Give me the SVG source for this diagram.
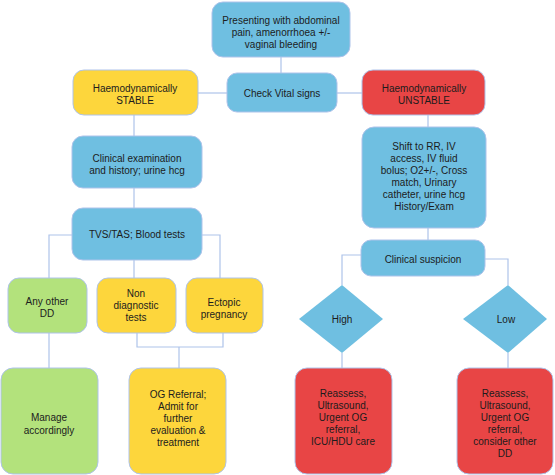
<svg xmlns="http://www.w3.org/2000/svg" width="555" height="475" viewBox="0 0 555 475">
<style>
.b{fill:#6fbfe1;stroke:#aec3ea;stroke-width:1}
.y{fill:#fdd63c;stroke:#aec3ea;stroke-width:1}
.r{fill:#e84545;stroke:#aec3ea;stroke-width:1}
.g{fill:#b3e27c;stroke:#aec3ea;stroke-width:1}
.c{fill:none;stroke:#aec3ea;stroke-width:1.2}
text{font-family:"Liberation Sans",Arial,sans-serif;font-size:10px;fill:#1c1c1c;text-anchor:middle}
</style>
<rect width="555" height="475" fill="#fff"/>
<g id="connectors">
<path class="c" d="M281 57V73"/>
<path class="c" d="M227 93H198"/>
<path class="c" d="M337 93H362"/>
<path class="c" d="M134 115V136"/>
<path class="c" d="M134 188V208"/>
<path class="c" d="M72 235H49V278"/>
<path class="c" d="M202 235H220V278"/>
<path class="c" d="M134 260V278"/>
<path class="c" d="M49 333V368"/>
<path class="c" d="M137 333V347H223V333"/>
<path class="c" d="M179 347V368"/>
<path class="c" d="M428 115V127"/>
<path class="c" d="M428 228V240"/>
<path class="c" d="M361 255H342V285"/>
<path class="c" d="M485 259H508V285"/>
<path class="c" d="M342 353V368"/>
<path class="c" d="M508 353V368"/>
</g>
<g id="n_present"><rect class="b" x="212" y="2" width="138" height="55" rx="11"/><text x="281" y="24">Presenting with abdominal</text><text x="281" y="36">pain, amenorrhoea +/-</text><text x="281" y="48">vaginal bleeding</text></g>
<g id="n_vital"><rect class="b" x="227" y="73" width="110" height="39" rx="10"/><text x="282" y="97">Check Vital signs</text></g>
<g id="n_stable"><rect class="y" x="73" y="70" width="125" height="45" rx="11"/><text x="135" y="92">Haemodynamically</text><text x="135" y="104">STABLE</text></g>
<g id="n_unstable"><rect class="r" x="362" y="70" width="123" height="45" rx="11"/><text x="424" y="92">Haemodynamically</text><text x="424" y="104">UNSTABLE</text></g>
<g id="n_clinexam"><rect class="b" x="72" y="136" width="130" height="52" rx="11"/><text x="137" y="162">Clinical examination</text><text x="137" y="174">and history; urine hcg</text></g>
<g id="n_tvs"><rect class="b" x="72" y="208" width="130" height="52" rx="11"/><text x="137" y="238">TVS/TAS; Blood tests</text></g>
<g id="n_other"><rect class="g" x="8" y="278" width="79" height="55" rx="11"/><text x="47" y="305">Any other</text><text x="47" y="317">DD</text></g>
<g id="n_nondiag"><rect class="y" x="97" y="278" width="79" height="55" rx="11"/><text x="136" y="297">Non</text><text x="136" y="309">diagnostic</text><text x="136" y="321">tests</text></g>
<g id="n_ectopic"><rect class="y" x="186" y="278" width="77" height="55" rx="11"/><text x="224" y="306">Ectopic</text><text x="224" y="318">pregnancy</text></g>
<g id="n_manage"><rect class="g" x="1" y="368" width="97" height="106" rx="12"/><text x="49" y="421">Manage</text><text x="49" y="434">accordingly</text></g>
<g id="n_og"><rect class="y" x="129" y="368" width="97" height="106" rx="12"/><text x="178" y="398">OG Referral;</text><text x="178" y="410">Admit for</text><text x="178" y="422">further</text><text x="178" y="434">evaluation &amp;</text><text x="178" y="446">treatment</text></g>
<g id="n_shift"><rect class="b" x="362" y="127" width="124" height="101" rx="12"/><text x="424" y="150">Shift to RR, IV</text><text x="424" y="162">access, IV fluid</text><text x="424" y="174">bolus; O2+/-, Cross</text><text x="424" y="186">match, Urinary</text><text x="424" y="198">catheter, urine hcg</text><text x="424" y="210">History/Exam</text></g>
<g id="n_suspicion"><rect class="b" x="361" y="240" width="124" height="36" rx="10"/><text x="423" y="263">Clinical suspicion</text></g>
<g id="n_high"><polygon class="b" points="342,285 383,319 342,353 299,319" style="stroke:none"/><text x="342" y="323">High</text></g>
<g id="n_low"><polygon class="b" points="508,285 547,319 508,353 463,319" style="stroke:none"/><text x="506" y="323">Low</text></g>
<g id="n_reassess1"><rect class="r" x="295" y="368" width="97" height="106" rx="12"/><text x="343" y="397">Reassess,</text><text x="343" y="409">Ultrasound,</text><text x="343" y="421">Urgent OG</text><text x="343" y="433">referral,</text><text x="343" y="445">ICU/HDU care</text></g>
<g id="n_reassess2"><rect class="r" x="457" y="368" width="96" height="106" rx="12"/><text x="505" y="397">Reassess,</text><text x="505" y="409">Ultrasound,</text><text x="505" y="421">Urgent OG</text><text x="505" y="433">referral,</text><text x="505" y="445">consider other</text><text x="505" y="457">DD</text></g>
</svg>
